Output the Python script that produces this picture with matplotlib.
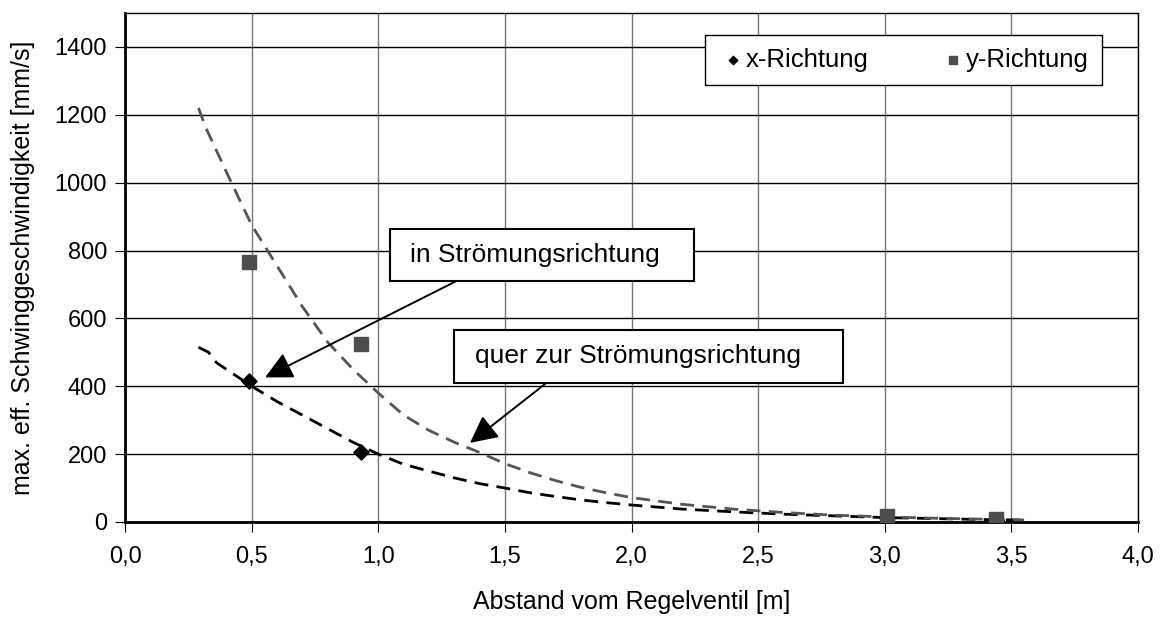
import numpy as np
import matplotlib
matplotlib.use("Agg")
import matplotlib.pyplot as plt
import matplotlib.ticker as ticker
from matplotlib.patches import Rectangle

plt.rcParams['font.family'] = ['Liberation Sans', 'DejaVu Sans']

# measured maxima
x_dist = [0.49, 0.93, 3.01, 3.44]
v_x = [415, 205, 12, 5]
v_y = [765, 525, 18, 8]

# fitted trend, x-direction
fit_x_dist = [0.29, 0.33, 0.36, 0.5, 0.6, 0.7, 0.8, 0.9, 1.0, 1.1, 1.2, 1.3, 1.4,
              1.5, 1.6, 1.7, 1.8, 1.9, 2.0, 2.2, 2.4, 2.6, 2.8, 3.0, 3.2, 3.4, 3.55]
fit_x_v = [515, 500, 470, 400, 355, 315, 275, 235, 200, 170, 150, 130, 113,
           100, 86, 75, 65, 57, 50, 38, 30, 23, 18, 13, 10, 7, 6]

# fitted trend, y-direction
fit_y_dist = [0.29, 0.32, 0.42, 0.5, 0.6, 0.7, 0.8, 0.9, 1.0, 1.1, 1.2, 1.3, 1.4,
              1.5, 1.6, 1.7, 1.8, 1.9, 2.0, 2.2, 2.4, 2.6, 2.8, 3.0, 3.2, 3.4, 3.55]
fit_y_v = [1220, 1160, 1000, 875, 755, 635, 530, 450, 380, 315, 270, 235, 205,
           172, 145, 122, 102, 86, 72, 52, 38, 28, 20, 15, 11, 8, 6]

fig = plt.figure(figsize=(11.61, 6.17), dpi=100)
ax = fig.add_axes([0.1077, 0.154, 0.8725, 0.825])

ax.plot(fit_x_dist, fit_x_v, color='black', lw=2, ls=(0, (5, 3)), zorder=3)
ax.plot(fit_y_dist, fit_y_v, color='#555555', lw=2, ls=(0, (5, 3)), zorder=3)

ax.scatter(x_dist, v_x, marker='D', s=60, color='black', zorder=4, label='x-Richtung')
ax.scatter(x_dist, v_y, marker='s', s=100, color='#4d4d4d', zorder=5, label='y-Richtung')

ax.set_xlim(0, 4.0)
ax.set_ylim(0, 1500)
ax.xaxis.set_major_locator(ticker.MultipleLocator(0.5))
ax.yaxis.set_major_locator(ticker.FixedLocator(np.arange(0, 1401, 200)))
ax.xaxis.set_major_formatter(ticker.FuncFormatter(lambda v, p: f"{v:.1f}".replace('.', ',')))
ax.tick_params(direction='out', length=7, labelsize=17, pad=6)
ax.tick_params(axis='x', pad=10)

ax.grid(axis='x', color='#777777', lw=1)
ax.grid(axis='y', color='black', lw=1)
ax.set_axisbelow(True)
for side in ['top', 'right']:
    ax.spines[side].set_linewidth(1)
ax.spines['left'].set_linewidth(2)
ax.spines['bottom'].set_linewidth(2)

ax.set_xlabel('Abstand vom Regelventil [m]', fontsize=18, labelpad=16)
ax.set_ylabel('max. eff. Schwinggeschwindigkeit [mm/s]', fontsize=18, labelpad=14)

leg = ax.legend(loc='upper right', bbox_to_anchor=(0.9644, 0.957), ncol=2, fontsize=18.5,
                frameon=True, fancybox=False, edgecolor='black', framealpha=1,
                handletextpad=-0.1, columnspacing=2.7, markerscale=0.55,
                handlelength=1.2, borderpad=0.5, borderaxespad=0)
leg.get_frame().set_linewidth(1)

arrow = dict(arrowstyle='-|>', mutation_scale=42, lw=1.4, color='black',
             shrinkA=0, shrinkB=0)

# label boxes with arrows pointing at the curves
ax.annotate('', xy=(0.553, 426), xytext=(1.303, 708), arrowprops=arrow, zorder=6)
ax.add_patch(Rectangle((1.046, 709), 1.201, 154, fc='white', ec='black', lw=1.5, zorder=7))
ax.text(1.125, 786, 'in Strömungsrichtung', fontsize=19, ha='left', va='center', zorder=8)

ax.annotate('', xy=(1.362, 233), xytext=(1.666, 411), arrowprops=arrow, zorder=6)
ax.add_patch(Rectangle((1.299, 411), 1.536, 156, fc='white', ec='black', lw=1.5, zorder=7))
ax.text(1.382, 488, 'quer zur Strömungsrichtung', fontsize=19, ha='left', va='center', zorder=8)

fig.savefig('out.png', dpi=100)
